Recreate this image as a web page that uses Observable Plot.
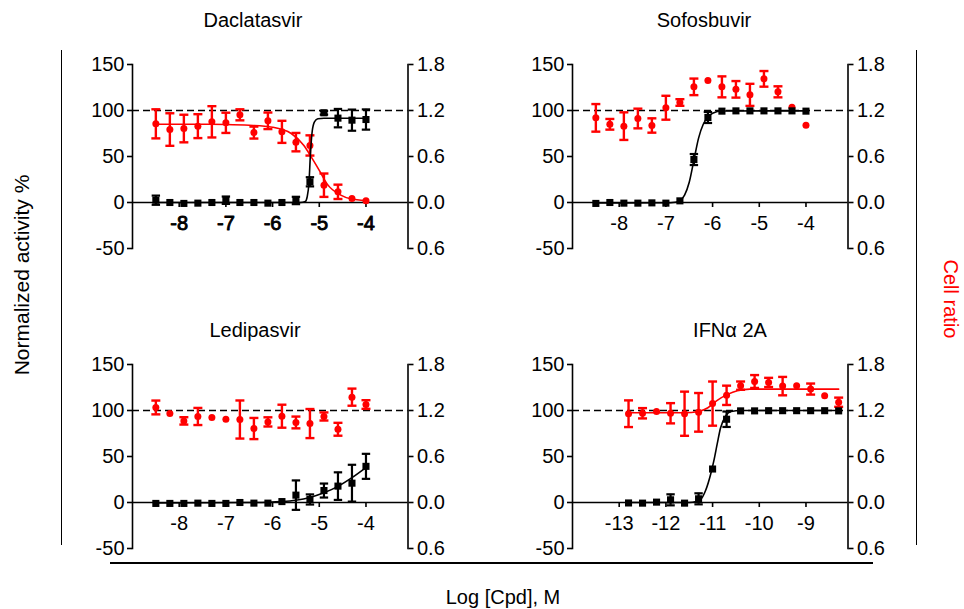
<!DOCTYPE html>
<html>
<head>
<meta charset="utf-8">
<script src="https://cdn.jsdelivr.net/npm/d3@7"></script>
<script src="https://cdn.jsdelivr.net/npm/@observablehq/plot@0.6"></script>
<style>
  html, body { margin: 0; padding: 0; background: #fff; }
  #fig { position: relative; width: 964px; height: 609px; overflow: hidden;
         font-family: "Liberation Sans", Arial, Helvetica, sans-serif; color: #000; background: #fff; }
  .lbl { position: absolute; white-space: nowrap; font-size: 20px; line-height: 1; transform: translate(-50%, -50%); }
  .line { position: absolute; background: #000; }
  .panel { position: absolute; }
  .panel svg { overflow: visible; }
</style>
</head>
<body>
<div id="fig"></div>
<script>
// ---------- data ----------
const doseHCV = [-8.5, -8.2, -7.9, -7.6, -7.3, -7.0, -6.7, -6.4, -6.1, -5.8, -5.5, -5.2, -4.9, -4.6, -4.3, -4.0];
const doseIFN = [-12.8, -12.5, -12.2, -11.9, -11.6, -11.3, -11.0, -10.7, -10.4, -10.1, -9.8, -9.5, -9.2, -8.9, -8.6, -8.3];

const yTicks = [-50, 0, 50, 100, 150];
const activityTickLabels = ["-50", "0", "50", "100", "150"];
const cellTickLabels = ["0.6", "0.0", "0.6", "1.2", "1.8"];
const xTicksHCV = [-8, -7, -6, -5, -4];
const xTicksIFN = [-13, -12, -11, -10, -9];
const xTickLabelsHCV = ["-8", "-7", "-6", "-5", "-4"];
const xTickLabelsIFN = ["-13", "-12", "-11", "-10", "-9"];

// Daclatasvir
const dacAct    = [2.5, 0, -1, -0.7, 0, 2.5, 0, 0, -0.7, 0, 2.2, 22.5, 97.5, 91.7, 89.5, 90.2];
const dacActErr = [5, 0, 0, 0, 0, 4, 0, 0, 0, 0, 4, 5, 2, 10, 11.5, 11];
const dacCell    = [85.5, 79.3, 80.4, 83, 87.7, 86.6, 95.3, 76, 88.8, 76.8, 65.6, 62, 18.8, 11.6, 4.3, 1.8];
const dacCellErr = [15.8, 17.7, 15, 13, 17, 11, 6, 6.5, 9, 12, 10, 11, 12.7, 7.8, 0, 0];
const dacActFitX = [-8.5, -5.4, -5.3, -5.26, -5.22, -5.19, -5.15, -5.1, -5.03, -4.9, -4.0];
const dacActFitY = [0, 0, 1, 6, 22, 52, 78, 88, 91, 91.5, 91.5];
const dacCellFitX = [-8.5, -7.5, -7.0, -6.5, -6.0, -5.6, -5.33, -5.19, -5.0, -4.83, -4.54, -4.33, -4.0];
const dacCellFitY = [85, 85, 84.8, 84, 81.8, 75, 62, 51, 35, 20, 8, 4, 2];

// Sofosbuvir
const sofAct    = [-1, 0, -0.7, -0.7, -0.4, -0.7, 1.8, 46.7, 92.4, 99.3, 99.6, 99.6, 99.6, 99.6, 99.6, 99.3];
const sofActErr = [0, 0, 0, 0, 0, 0, 0, 6, 6, 0, 0, 0, 0, 0, 0, 0];
const sofCell    = [92, 85, 83, 91.3, 83.7, 103, 108.7, 125.7, 132.6, 125.7, 123, 117, 134.4, 120.3, 103.6, 84];
const sofCellErr = [15, 5.8, 15, 10.7, 7.8, 13, 3.6, 9, 0, 11.4, 9, 12, 8.5, 6, 0, 0];
const sofActFitX = [-8.5, -7.0, -6.8, -6.7, -6.6, -6.5, -6.4, -6.3, -6.2, -6.1, -6.0, -5.8, -4.0];
const sofActFitY = [-0.5, -0.3, 0.3, 2, 8, 22, 46, 70, 85, 93, 97, 99.5, 99.6];

// Ledipasvir
const ledAct    = [-1, -1, -1, -0.7, -1, -1, 0, -0.7, -0.7, 1, 8, 3.3, 13, 17.8, 21, 39.3];
const ledActErr = [0, 0, 0, 0, 0, 0, 0, 0, 0, 0, 16, 5.5, 7.6, 15, 20, 13.6];
const ledCell    = [103.3, 96.7, 88.7, 93.5, 92.4, 90.5, 90.2, 80.4, 87.6, 93.8, 87, 85.8, 93.5, 79.6, 114.5, 106.5];
const ledCellErr = [7.5, 0, 4, 9.3, 0, 0, 20.7, 11.5, 5, 12.5, 6.4, 15.8, 4.4, 7, 9.3, 4.7];
const ledActFitX = [-8.5, -6.5, -6.1, -5.8, -5.5, -5.2, -4.9, -4.6, -4.3, -4.0];
const ledActFitY = [-0.5, 0, 0.3, 1, 2.5, 5.5, 10.5, 17.5, 27, 38];

// IFN alpha 2A
const ifnAct    = [-0.5, -0.7, 0.4, 2.9, -0.7, 4, 36.4, 90.5, 99.6, 99.6, 99.8, 99.8, 99.8, 99.8, 99.8, 99.6];
const ifnActErr = [0, 0, 0, 6, 0, 6, 0, 8.4, 0, 0, 0, 0, 0, 0, 0, 0];
const ifnCell    = [96.5, 97, 99, 97, 96.5, 98, 107.5, 116.5, 127, 131.5, 130.5, 126.5, 127, 123.3, 116, 109];
const ifnCellErr = [14.5, 5.6, 0, 11, 24, 21, 24, 10.5, 4.5, 7, 5, 10, 0, 6, 0, 5];
const ifnActFitX = [-12.8, -11.5, -11.35, -11.26, -11.15, -11.04, -10.97, -10.9, -10.83, -10.72, -10.6, -10.4, -8.3];
const ifnActFitY = [0, 0, 1, 3, 13, 31, 46, 64, 81, 94, 99, 100, 100];
const ifnCellFitX = [-12.8, -11.6, -11.3, -11.1, -10.9, -10.68, -10.47, -10.2, -8.3];
const ifnCellFitY = [97.5, 97.5, 99, 103, 111, 117.5, 121.5, 123.2, 123.2];

// ---------- drawing ----------
const RED = "#ff0000";
const FONT = '"Liberation Sans", Arial, Helvetica, sans-serif';

// stroke-only symbols: horizontal cap and downward tick
const capSymbol = { draw(ctx, size) { const r = Math.sqrt(size / Math.PI); ctx.moveTo(-r, 0); ctx.lineTo(r, 0); } };
const tickDown  = { draw(ctx, size) { const r = Math.sqrt(size / Math.PI); ctx.moveTo(0, 0); ctx.lineTo(0, r); } };

function panel(cfg) {
  const rows = cfg.dose.map((x, i) => ({ x, act: cfg.act[i], actErr: cfg.actErr[i], cell: cfg.cell[i], cellErr: cfg.cellErr[i] }));
  const actFit = cfg.actFitX.map((x, i) => ({ x, y: cfg.actFitY[i] }));
  const cellFit = cfg.cellFitX ? cfg.cellFitX.map((x, i) => ({ x, y: cfg.cellFitY[i] })) : [];
  const cellBars = rows.filter(d => d.cellErr > 0);
  const actBars = rows.filter(d => d.actErr > 0);
  const leftMap = new Map(yTicks.map((t, i) => [t, activityTickLabels[i]]));
  const rightMap = new Map(yTicks.map((t, i) => [t, cellTickLabels[i]]));
  const xLab = new Map(cfg.xTicks.map((t, i) => [t, cfg.xTickLabels[i]]));
  // the Daclatasvir panel's x labels look over-printed (heavier) in the reference
  const heavy = cfg.overprint ? { stroke: "#000", strokeWidth: 0.9, paintOrder: "stroke" } : {};
  return Plot.plot({
    width: cfg.width, height: 218,
    marginLeft: 60, marginRight: 60, marginTop: 14, marginBottom: 20,
    x: { domain: cfg.xDomain, axis: null },
    y: { domain: [-50, 150], axis: null },
    style: { fontFamily: FONT, fontSize: "20px", background: "transparent", overflow: "visible", color: "#000" },
    marks: [
      Plot.frame({ anchor: "left", strokeWidth: 1.6 }),
      Plot.frame({ anchor: "right", strokeWidth: 1.6 }),
      Plot.axisY({ anchor: "left", ticks: yTicks, tickFormat: d => leftMap.get(d), tickSize: 5, tickPadding: 3, strokeWidth: 1.6, label: null, fontSize: 20 }),
      Plot.axisY({ anchor: "right", ticks: yTicks, tickFormat: d => rightMap.get(d), tickSize: 5, tickPadding: 4, strokeWidth: 1.6, label: null, fontSize: 20 }),
      Plot.ruleY([100], { stroke: "#000", strokeWidth: 1.6, strokeDasharray: "7,4" }),
      Plot.ruleY([0], { stroke: "#000", strokeWidth: 1.6 }),
      Plot.dot(cfg.xTicks, { x: d => d, y: 0, symbol: tickDown, r: 4.5, stroke: "#000", fill: "none", strokeWidth: 1.6 }),
      Plot.text(cfg.xTicks, { x: d => d, y: 0, dy: 21, text: d => xLab.get(d), fontSize: 20, fill: "#000", ...heavy }),
      // cell ratio (red)
      Plot.ruleX(cellBars, { x: "x", y1: d => d.cell - d.cellErr, y2: d => d.cell + d.cellErr, stroke: RED, strokeWidth: 2.4 }),
      Plot.dot(cellBars, { x: "x", y: d => d.cell + d.cellErr, symbol: capSymbol, r: 4.5, stroke: RED, fill: "none", strokeWidth: 2.4 }),
      Plot.dot(cellBars, { x: "x", y: d => d.cell - d.cellErr, symbol: capSymbol, r: 4.5, stroke: RED, fill: "none", strokeWidth: 2.4 }),
      Plot.line(cellFit, { x: "x", y: "y", stroke: RED, strokeWidth: 1.6, curve: "monotone-x" }),
      Plot.dot(rows, { x: "x", y: "cell", r: 3.5, fill: RED, stroke: "none" }),
      // normalized activity (black)
      Plot.ruleX(actBars, { x: "x", y1: d => d.act - d.actErr, y2: d => d.act + d.actErr, stroke: "#000", strokeWidth: 2.2 }),
      Plot.dot(actBars, { x: "x", y: d => d.act + d.actErr, symbol: capSymbol, r: 4.2, stroke: "#000", fill: "none", strokeWidth: 2.2 }),
      Plot.dot(actBars, { x: "x", y: d => d.act - d.actErr, symbol: capSymbol, r: 4.2, stroke: "#000", fill: "none", strokeWidth: 2.2 }),
      Plot.line(actFit, { x: "x", y: "y", stroke: "#000", strokeWidth: 1.6, curve: "monotone-x" }),
      Plot.dot(rows, { x: "x", y: "act", symbol: "square", r: 4, fill: "#000", stroke: "none" })
    ]
  });
}

const fig = document.getElementById("fig");

const panels = [
  { left: 71.5, top: 50, width: 395.5, xDomain: [-9, -3.1], dose: doseHCV, xTicks: xTicksHCV, xTickLabels: xTickLabelsHCV, overprint: true,
    act: dacAct, actErr: dacActErr, cell: dacCell, cellErr: dacCellErr, actFitX: dacActFitX, actFitY: dacActFitY, cellFitX: dacCellFitX, cellFitY: dacCellFitY },
  { left: 511.5, top: 50, width: 395.5, xDomain: [-9, -3.1], dose: doseHCV, xTicks: xTicksHCV, xTickLabels: xTickLabelsHCV,
    act: sofAct, actErr: sofActErr, cell: sofCell, cellErr: sofCellErr, actFitX: sofActFitX, actFitY: sofActFitY },
  { left: 71.5, top: 350, width: 395.5, xDomain: [-9, -3.1], dose: doseHCV, xTicks: xTicksHCV, xTickLabels: xTickLabelsHCV,
    act: ledAct, actErr: ledActErr, cell: ledCell, cellErr: ledCellErr, actFitX: ledActFitX, actFitY: ledActFitY },
  { left: 511.5, top: 350, width: 395.5, xDomain: [-14, -8.1], dose: doseIFN, xTicks: xTicksIFN, xTickLabels: xTickLabelsIFN,
    act: ifnAct, actErr: ifnActErr, cell: ifnCell, cellErr: ifnCellErr, actFitX: ifnActFitX, actFitY: ifnActFitY, cellFitX: ifnCellFitX, cellFitY: ifnCellFitY }
];

for (const p of panels) {
  const div = document.createElement("div");
  div.className = "panel";
  div.style.left = p.left + "px";
  div.style.top = p.top + "px";
  div.appendChild(panel(p));
  fig.appendChild(div);
}

// titles and axis labels
const titles = [
  { text: "Daclatasvir", x: 253, y: 20 },
  { text: "Sofosbuvir", x: 704, y: 20 },
  { text: "Ledipasvir", x: 255, y: 330 },
  { text: "IFNα 2A", x: 730, y: 330 },
  { text: "Log [Cpd], M", x: 503, y: 597 }
];
for (const t of titles) {
  const el = document.createElement("div");
  el.className = "lbl";
  el.textContent = t.text;
  el.style.left = t.x + "px";
  el.style.top = t.y + "px";
  fig.appendChild(el);
}
const yl = document.createElement("div");
yl.className = "lbl";
yl.textContent = "Normalized activity %";
yl.style.left = "21px"; yl.style.top = "275px"; yl.style.fontSize = "21px";
yl.style.transform = "translate(-50%, -50%) rotate(-90deg)";
fig.appendChild(yl);
const yr = document.createElement("div");
yr.className = "lbl";
yr.textContent = "Cell ratio";
yr.style.left = "951px"; yr.style.top = "299px"; yr.style.color = RED;
yr.style.transform = "translate(-50%, -50%) rotate(90deg)";
fig.appendChild(yr);

// frame lines of the figure
const lines = [
  { left: 60.7, top: 50, width: 1.6, height: 495 },
  { left: 915.7, top: 50, width: 1.6, height: 495 },
  { left: 110, top: 562.2, width: 763, height: 1.6 }
];
for (const l of lines) {
  const el = document.createElement("div");
  el.className = "line";
  Object.assign(el.style, { left: l.left + "px", top: l.top + "px", width: l.width + "px", height: l.height + "px" });
  fig.appendChild(el);
}
</script>
</body>
</html>
